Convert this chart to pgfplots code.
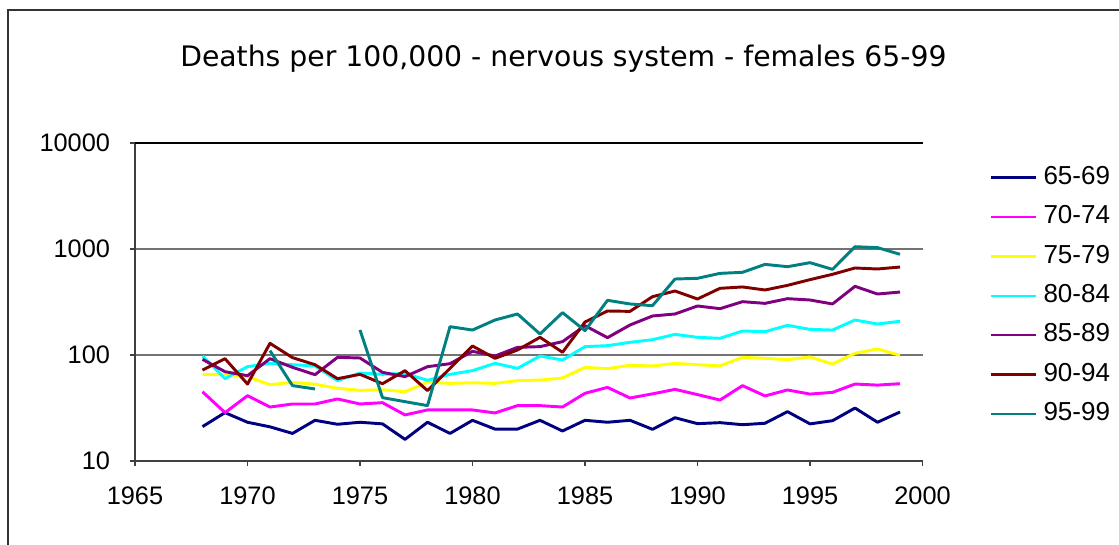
\documentclass[border=0pt]{standalone}
\usepackage{pgfplots}
\usepackage{pgfplotstable}
\pgfplotsset{compat=1.18}
\usepackage{fontspec}
\setmainfont{Liberation Sans}
\newfontfamily\titlefont{DejaVu Sans}

\definecolor{cNavy}{RGB}{0,0,128}
\definecolor{cMag}{RGB}{255,0,255}
\definecolor{cYel}{RGB}{255,255,0}
\definecolor{cCyan}{RGB}{0,255,255}
\definecolor{cPurp}{RGB}{128,0,128}
\definecolor{cDRed}{RGB}{128,0,0}
\definecolor{cTeal}{RGB}{0,128,128}

\pgfplotstableread{
year s1 s2 s3 s4 s5 s6 s7
1968 21.1 45 65.7 97.8 91 72.1 nan
1969 28.6 28.6 65.7 59.8 69.6 92.3 nan
1970 23.2 41.3 62.5 77.6 63.8 53.2 nan
1971 21 32.3 52.5 83.4 92.3 128.8 109.9
1972 18.2 34.5 55.2 81 76.5 94.4 51.4
1973 24.2 34.5 53 78.8 65.2 81 47.8
1974 22.2 38.5 48.5 57.3 95 59.8 nan
1975 23.2 34.5 46.4 67.6 93.7 65.7 172.2
1976 22.4 35.5 47 65.7 68.6 53.6 39.6
1977 16 27.2 45 67 62.5 71.2 36.3
1978 23.2 30.3 55.5 57.7 77.6 46.1 33.3
1979 18.2 30.3 54 65.7 82.8 74.8 185
1980 24.2 30.3 54.7 71.2 108.3 121.6 172
1981 20 28.4 54 83.4 97.8 93 213.8
1982 20 33.3 57.3 74.8 118.1 111.5 243.7
1983 24.2 33.3 58 97.8 119.9 146.8 157.8
1984 19.2 32.3 60.7 89.7 133.6 106 251
1985 24.2 43.5 76.5 119.9 189 204.8 169.6
1986 23.2 49.5 74.3 122.5 145.8 260 328
1987 24.2 39.3 80 131.7 191.9 258 303
1988 19.9 43 78.8 139.5 233.4 354.9 291.9
1989 25.6 47.4 83.4 156.6 243.7 401.5 521
1990 22.5 42.3 81 146.8 290 337.5 528.9
1991 23 37.6 79 143.7 273.5 425.6 589
1992 22 51.4 95 168.5 318.4 438.4 602.6
1993 22.7 41.1 93 166 307 410.5 716
1994 29.2 46.8 90.4 190.5 339.9 454 681
1995 22.4 42.8 95.7 174.4 330.3 513.8 743
1996 24 44.4 82.2 172 303 577 642.7
1997 31.6 53.2 103.7 213.8 444.4 662 1051
1998 23.2 52 114 196 376 647.7 1030
1999 29 53.6 99.3 208 392.6 676 891
}\datatable

\begin{document}
\begin{tikzpicture}
\useasboundingbox (0,0) rectangle (839.25pt,408.75pt);
\fill[white] (0,0) rectangle (839.25pt,408.75pt);
\draw[line width=1.5pt, black!80] (6pt,-10pt) -- (6pt,401.25pt) -- (850pt,401.25pt);
\node[font=\titlefont\fontsize{21.2}{24}\selectfont, anchor=center] at (422.6pt,365pt) {Deaths per 100,000 - nervous system - females 65-99};
\begin{axis}[
  at={(101.25pt,63pt)}, anchor=south west,
  scale only axis, width=590.625pt, height=238.5pt,
  xmin=1965, xmax=2000, ymin=10, ymax=10000,
  ymode=log, log basis y=10,
  xtick={1965,1970,...,2000},
  ytick={10,100,1000},
  yticklabels={10,100,1000},
  extra y ticks={10000}, extra y tick labels={10000},
  extra y tick style={grid style={black, line width=1.1pt}},
  yminorticks=false,
  axis x line*=bottom, axis y line*=left,
  axis line style={black!75, line width=1.1pt},
  tick align=outside, major tick length=3.75pt,
  tick style={black!75, line width=1pt},
  ymajorgrids, grid style={black!55, line width=1.1pt},
  /pgf/number format/1000 sep={},
  /pgf/number format/assume math mode=true,
  ticklabel style={font=\fontsize{19}{22}\selectfont},
  xticklabel style={yshift=-12pt},
  yticklabel style={xshift=-11.5pt},
  clip=false,
  unbounded coords=jump,
  every axis plot/.append style={line width=2.2pt, line join=round},
  legend style={draw=none, fill=none, at={(1.0857,0.929)}, anchor=north west,
    inner sep=0pt, outer sep=0pt,
    font=\fontsize{19.5}{22}\selectfont,
    nodes={inner sep=0pt, outer sep=0pt, text height=14pt, text depth=4pt},
    row sep=11.55pt,
    /tikz/every odd column/.append style={column sep=4.5pt}},
  legend cell align=left,
  legend image code/.code={\draw[#1,line width=1.9pt] (0pt,0pt) -- (33.75pt,0pt);},
]
\addplot[cNavy] table[x=year,y=s1]{\datatable};
\addlegendentry{65-69}
\addplot[cMag] table[x=year,y=s2]{\datatable};
\addlegendentry{70-74}
\addplot[cYel] table[x=year,y=s3]{\datatable};
\addlegendentry{75-79}
\addplot[cCyan] table[x=year,y=s4]{\datatable};
\addlegendentry{80-84}
\addplot[cPurp] table[x=year,y=s5]{\datatable};
\addlegendentry{85-89}
\addplot[cDRed] table[x=year,y=s6]{\datatable};
\addlegendentry{90-94}
\addplot[cTeal] table[x=year,y=s7]{\datatable};
\addlegendentry{95-99}
\end{axis}
\end{tikzpicture}
\end{document}
